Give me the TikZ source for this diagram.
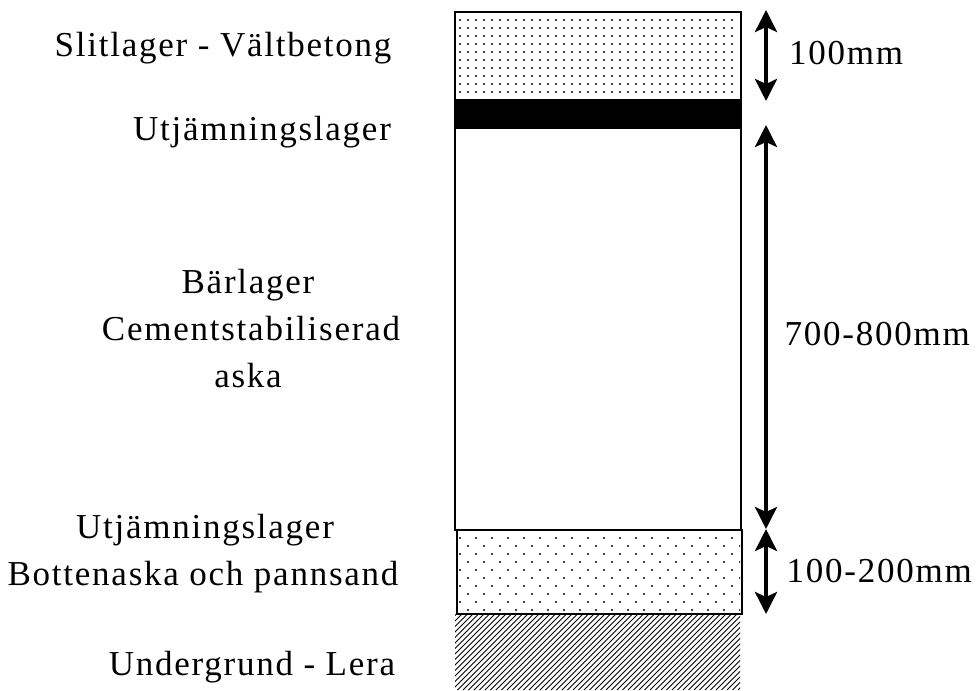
\documentclass[tikz,border=0pt]{standalone}
\usepackage{fontspec}
\setmainfont[LetterSpace=5]{Liberation Serif}
\usetikzlibrary{arrows.meta}
\tikzset{
  layerbox/.style={draw=black, line width=1.6pt, inner sep=0pt, anchor=north west},
  lbl/.style={inner sep=0pt, anchor=base, font=\fontsize{35}{47}\selectfont},
  dimlbl/.style={inner sep=0pt, font=\fontsize{35}{47}\selectfont},
  dimarrow/.style={line width=4pt, {Stealth[width=22pt,length=22pt,inset=5pt]}-{Stealth[width=22pt,length=22pt,inset=5pt]}},
  dotfill/.style={fill=black},
}
\begin{document}
\begin{tikzpicture}[x=1pt,y=-1pt]
\useasboundingbox (0,0) rectangle (976,690);
% ---- hatched subsoil
\begin{scope}
  \clip (455,613) rectangle (740,690);
  \foreach \i in {0,5.5,...,380} {
    \draw[line width=1pt] (455+\i-80,690) -- (455+\i,610);
  }
\end{scope}
% ---- layers
\node[layerbox, minimum width=286pt, minimum height=88pt] (slit) at (454,11) {};
\begin{scope}
  \clip (455,12) rectangle (739,99);
  \foreach \yy in {12,20,...,96} {
    \foreach \xx in {460,468,...,740} {
      \fill[dotfill] (\xx,\yy) circle (1.1pt);
    }
  }
\end{scope}
\node[layerbox, fill=black, minimum width=286pt, minimum height=28pt] (utj1) at (454,99) {};
\node[layerbox, fill=white, minimum width=286pt, minimum height=402pt] (bar) at (454,127) {};
\node[layerbox, minimum width=285pt, minimum height=84pt] (utj2) at (456,529) {};
\begin{scope}
  \clip (457,530) rectangle (740,612);
  \foreach \r in {0,...,10} {
    \pgfmathsetmacro{\yy}{530+8*\r}
    \pgfmathsetmacro{\off}{mod(\r,2)==0 ? 8 : 0}
    \foreach \c in {0,...,18} {
      \fill[dotfill] (460+\off+16*\c,\yy) circle (1.1pt);
    }
  }
\end{scope}
% ---- labels
\node[lbl] (t1) at (223,57) {Slitlager - Vältbetong};
\node[lbl] (t2) at (262,140) {Utjämningslager};
\node[lbl] (t3a) at (248,293) {Bärlager};
\node[lbl] (t3b) at (251,340) {Cementstabiliserad};
\node[lbl] (t3c) at (248,387) {aska};
\node[lbl] (t4a) at (205,538) {Utjämningslager};
\node[lbl] (t4b) at (203,585) {Bottenaska och pannsand};
\node[lbl] (t5) at (252,675) {Undergrund - Lera};
% ---- dimension arrows
\coordinate (a1t) at (766,10);
\coordinate (a1b) at (766,101);
\coordinate (a2t) at (766,125);
\coordinate (a2b) at (766,529);
\coordinate (a3t) at (766,529);
\coordinate (a3b) at (766,614);
\draw[dimarrow] (a1t) -- (a1b);
\draw[dimarrow] (a2t) -- (a2b);
\draw[dimarrow] (a3t) -- (a3b);
\node[dimlbl, anchor=base west] (d1) at (789,65) {100mm};
\node[dimlbl, anchor=base east] (d2) at (970,345) {700-800mm};
\node[dimlbl, anchor=base east] (d3) at (972,582) {100-200mm};
\end{tikzpicture}
\end{document}
